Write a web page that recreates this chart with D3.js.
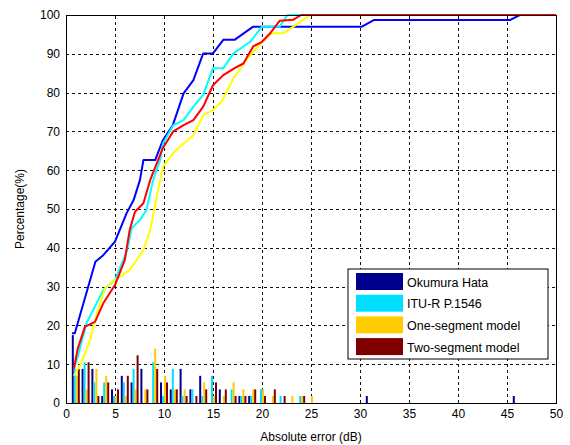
<!DOCTYPE html>
<html>
<head>
<meta charset="utf-8">
<script src="https://cdn.jsdelivr.net/npm/d3@7/dist/d3.min.js"></script>
<style>
    body { margin: 0; background: #fff; }
    text { font-family: "Liberation Sans", Arial, sans-serif; }
    .grid line { stroke: #111; stroke-dasharray: 3,3; shape-rendering: crispEdges; }
    .grid path { display: none; }
    .axis text { font-size: 12px; fill: #000; }
    .axis path, .axis line { stroke: #000; }
</style>
</head>
<body>
<svg id="chart" width="570" height="445"></svg>
<script>
// series names and colours
var seriesNames = ['Okumura Hata', 'ITU-R P.1546', 'One-segment model', 'Two-segment model'];
var barColors = ['#00008f', '#00dfff', '#ffcc00', '#800000'];
var lineColors = ['#0000ff', '#00ffff', '#ffff00', '#ff0000'];

var xTicks = [0, 5, 10, 15, 20, 25, 30, 35, 40, 45, 50];
var yTicks = [0, 10, 20, 30, 40, 50, 60, 70, 80, 90, 100];

// histogram bins (dB) and percentage per bin
var bins = [1, 2, 3, 4, 5, 6, 7, 8, 9, 10, 11, 12, 13, 14, 15, 16, 17, 18, 19, 20, 21, 22, 23, 24, 25, 31, 46];
var okumuraBars = [17.5, 8.8, 8.8, 1.8, 3.5, 7.0, 5.3, 8.8, 0, 5.3, 3.5, 8.8, 3.5, 7.0, 0, 3.5, 0, 1.8, 1.8, 0, 0, 0, 0, 0, 0, 1.8, 1.8];
var ituBars = [8.8, 10.5, 5.3, 5.3, 1.8, 5.3, 8.8, 0, 10.5, 1.8, 8.8, 1.8, 3.5, 1.8, 7.0, 0, 3.5, 1.8, 1.8, 3.5, 0, 1.8, 0, 1.8, 0, 0, 0];
var oneSegBars = [7.0, 3.5, 8.8, 7.0, 1.8, 1.8, 3.5, 3.5, 14.0, 7.0, 3.5, 3.5, 0, 5.3, 1.8, 1.8, 5.3, 3.5, 3.5, 3.5, 1.8, 0, 1.8, 1.8, 1.8, 0, 0];
var twoSegBars = [8.8, 10.5, 1.8, 5.3, 3.5, 7.0, 12.3, 3.5, 8.8, 5.3, 3.5, 1.8, 1.8, 3.5, 5.3, 3.5, 1.8, 1.8, 3.5, 1.8, 3.5, 1.8, 0, 1.8, 0, 0, 0];

// cumulative curves, [error dB, percentage]
var okumuraCdf = [[0.6, 18], [0.9, 18], [3.0, 36.4], [3.8, 38.1], [5.0, 41.6], [6.2, 49], [6.9, 52.3], [7.55, 57.5], [7.9, 62.6], [9.1, 62.6],
    [9.9, 67.8], [10.9, 71.6], [12.0, 79.8], [13.0, 83.2], [14.0, 90.1], [15.0, 90.1], [16.05, 93.6], [17.2, 93.6], [19.1, 97],
    [30.2, 97], [31.4, 98.7], [45.3, 98.7], [46.3, 100], [50, 100]];
var ituCdf = [[0.8, 8.8], [1.2, 12], [2.1, 20.6], [3.8, 29.1], [5.0, 31.7], [6.2, 39], [6.7, 45], [7.55, 47.2], [8.2, 49.7], [8.9, 57.5],
    [9.6, 62.6], [9.9, 66.9], [10.95, 71.6], [12.0, 72.9], [13.0, 76.4], [14.0, 79.4], [15.0, 86.3], [16.05, 86.3], [17.1, 90.1],
    [18.8, 93.1], [20.0, 97], [21.8, 97], [22.6, 100], [50, 100]];
var oneSegCdf = [[0.8, 7], [1.5, 10], [2.45, 16.2], [2.96, 21.4], [3.98, 29.6], [5.0, 31.7], [6.5, 34.3], [7.9, 39.4], [8.6, 44.6],
    [9.25, 53.2], [9.9, 60.9], [10.95, 64.5], [12.0, 66.9], [13.0, 69], [14.0, 74.2], [15.0, 75.5], [15.9, 77.7], [17.1, 83.7],
    [18.4, 88.4], [19.8, 92.5], [21.0, 95.3], [22.2, 95.3], [23.2, 97], [24.9, 100], [50, 100]];
var twoSegCdf = [[0.8, 8.8], [1.2, 14], [1.94, 19.7], [2.96, 20.9], [3.8, 25.7], [5.0, 30.4], [6.0, 36.9], [6.5, 44.6], [7.04, 49.3],
    [7.9, 51.5], [8.6, 57.5], [9.9, 65.8], [10.95, 70], [12.0, 71.6], [13.0, 72.9], [14.0, 76.4], [15.0, 81.9], [16.05, 84.5],
    [17.2, 86.3], [18.1, 87.5], [19.1, 91.9], [20.0, 93.1], [20.9, 95.5], [21.8, 98.5], [23.2, 98.8], [24.0, 100], [50, 100]];

var barSeries = [okumuraBars, ituBars, oneSegBars, twoSegBars];
var cdfSeries = [okumuraCdf, ituCdf, oneSegCdf, twoSegCdf];

(function () {
    var margin = {top: 15, left: 66, right: 14, bottom: 42};
    var svg = d3.select('#chart');
    var width = 570 - margin.left - margin.right,
        height = 445 - margin.top - margin.bottom;
    var g = svg.append('g').attr('transform', 'translate(' + margin.left + ',' + margin.top + ')');

    var x = d3.scaleLinear().domain([0, 50]).range([0, width]);
    var y = d3.scaleLinear().domain([0, 100]).range([height, 0]);
    var inner = d3.scaleBand().domain(seriesNames).range([-4, 4]);

    // dashed grid
    g.append('g').classed('grid', true)
        .attr('transform', 'translate(0,' + height + ')')
        .call(d3.axisBottom(x).tickValues(xTicks.slice(1, -1)).tickSize(-height).tickFormat(''));
    g.append('g').classed('grid', true)
        .call(d3.axisLeft(y).tickValues(yTicks.slice(1, -1)).tickSize(-width).tickFormat(''));

    // bars
    barSeries.forEach(function (vals, i) {
        g.append('g').selectAll('rect').data(bins)
            .enter().append('rect')
            .attr('x', function (b) { return x(b) + inner(seriesNames[i]); })
            .attr('width', inner.bandwidth())
            .attr('y', function (b, j) { return y(vals[j]); })
            .attr('height', function (b, j) { return height - y(vals[j]); })
            .attr('fill', barColors[i]);
    });

    // cumulative lines
    var line = d3.line().x(function (d) { return x(d[0]); }).y(function (d) { return y(d[1]); });
    cdfSeries.forEach(function (pts, i) {
        g.append('path').datum(pts)
            .attr('d', line)
            .attr('fill', 'none')
            .attr('stroke', lineColors[i])
            .attr('stroke-width', 2)
            .attr('stroke-linejoin', 'round');
    });

    // axes
    g.append('g').classed('axis', true)
        .attr('transform', 'translate(0,' + height + ')')
        .call(d3.axisBottom(x).tickValues(xTicks).tickSize(0).tickPadding(6))
        .select('.domain').remove();
    g.append('g').classed('axis', true)
        .call(d3.axisLeft(y).tickValues(yTicks).tickSize(0).tickPadding(6))
        .select('.domain').remove();

    g.append('rect')
        .attr('width', width).attr('height', height)
        .attr('fill', 'none').attr('stroke', '#000').attr('stroke-width', 1)
        .attr('shape-rendering', 'crispEdges');

    svg.append('text')
        .attr('x', margin.left + width / 2).attr('y', 441)
        .attr('text-anchor', 'middle').attr('font-size', 12)
        .text('Absolute error (dB)');
    svg.append('text')
        .attr('transform', 'translate(24,' + (margin.top + height / 2) + ') rotate(-90)')
        .attr('text-anchor', 'middle').attr('font-size', 12)
        .text('Percentage(%)');

    // legend
    var legend = svg.append('g').attr('transform', 'translate(348,269)');
    legend.append('rect')
        .attr('width', 200).attr('height', 90)
        .attr('fill', '#fff').attr('stroke', '#000');
    seriesNames.forEach(function (name, i) {
        var row = legend.append('g').attr('transform', 'translate(0,' + (4 + i * 21.7) + ')');
        row.append('rect')
            .attr('x', 8).attr('width', 47).attr('height', 17)
            .attr('fill', barColors[i]);
        row.append('text')
            .attr('x', 59).attr('y', 13.5)
            .attr('font-size', 12.5)
            .text(name);
    });
})();
</script>
</body>
</html>
